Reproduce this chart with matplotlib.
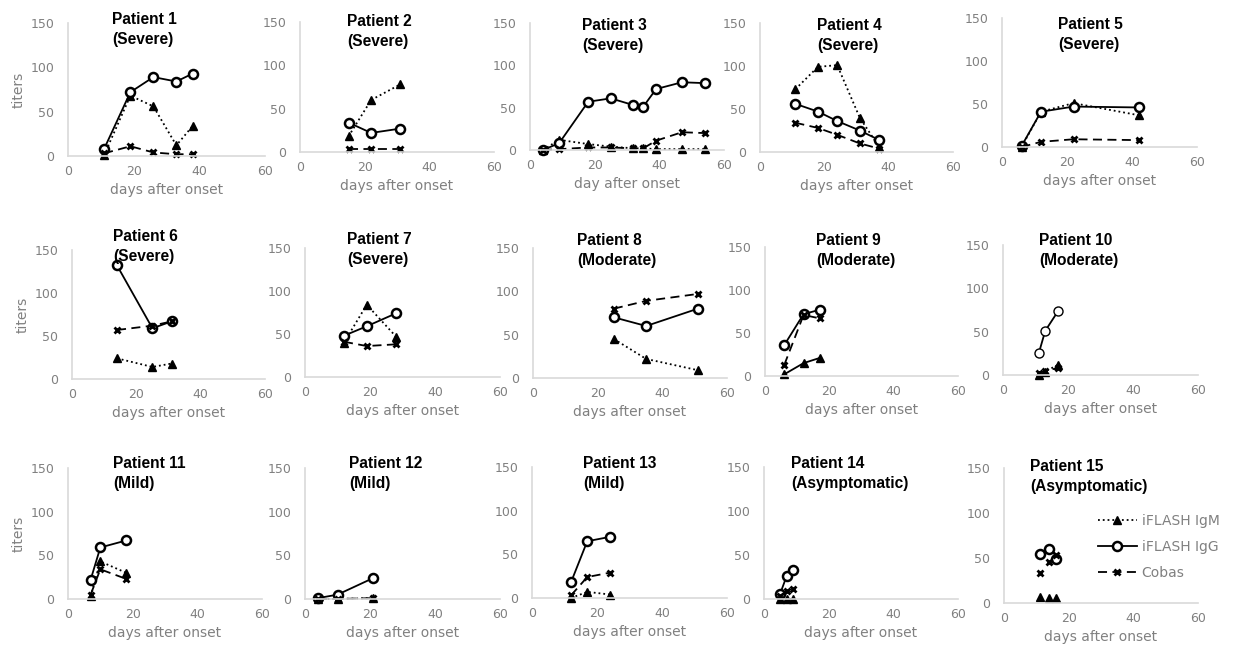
import matplotlib.pyplot as plt

# sampling days and titers, one list per patient
patients = ["Patient %d" % (i + 1) for i in range(15)]
severity = ["(Severe)"] * 7 + ["(Moderate)"] * 3 + ["(Mild)"] * 3 + ["(Asymptomatic)"] * 2

days = [
    [11, 19, 26, 33, 38],
    [15, 22, 31],
    [4, 9, 18, 25, 32, 35, 39, 47, 54],
    [11, 18, 24, 31, 37],
    [6, 12, 22, 42],
    [14, 25, 31],
    [12, 19, 28],
    [25, 35, 51],
    [6, 12, 17],
    [11, 13, 17],
    [7, 10, 18],
    [4, 10, 21],
    [12, 17, 24],
    [5, 7, 9],
    [11, 14, 16],
]
igm = [
    [1, 68, 56, 12, 34],
    [18, 60, 78],
    [0, 12, 7, 4, 2, 2, 1, 1, 1],
    [73, 99, 101, 40, 6],
    [0, 41, 51, 37],
    [24, 14, 18],
    [40, 84, 47],
    [45, 22, 9],
    [2, 15, 21],
    [0, 4, 12],
    [3, 43, 30],
    [0, 0, 1],
    [0, 7, 4],
    [0, 0, 0],
    [7, 6, 6],
]
igg = [
    [8, 72, 89, 84, 93],
    [34, 22, 27],
    [0, 8, 57, 61, 53, 51, 72, 80, 79],
    [56, 47, 36, 25, 14],
    [1, 41, 47, 46],
    [132, 59, 67],
    [48, 59, 74],
    [70, 60, 80],
    [36, 72, 77],
    [25, 51, 74],
    [22, 59, 67],
    [1, 5, 24],
    [18, 65, 70],
    [6, 26, 33],
    [54, 60, 49],
]
cobas = [
    [3, 11, 4, 2, 2],
    [3, 3, 3],
    [0, 1, 3, 3, 2, 2, 11, 21, 20],
    [34, 28, 20, 10, 4],
    [0, 6, 9, 8],
    [57, 62, 67],
    [41, 36, 38],
    [80, 89, 97],
    [13, 71, 67],
    [2, 5, 8],
    [5, 34, 23],
    [0, 0, 1],
    [3, 24, 29],
    [3, 9, 11],
    [33, 46, 53],
]
xlabels = ["days after onset"] * 15
xlabels[2] = "day after onset"
series_names = ["iFLASH IgM", "iFLASH IgG", "Cobas"]

# layout in pixels: y-axis x, x=60 x, x-axis y, y=150 y
boxes = [
    (68, 265, 156, 23), (300, 494, 152, 22), (530, 724, 150, 23), (760, 953, 152, 23), (1002, 1197, 147, 18),
    (72, 265, 379, 250), (305, 500, 377, 248), (533, 727, 378, 248), (765, 958, 376, 247), (1003, 1198, 375, 245),
    (68, 262, 599, 468), (305, 500, 599, 468), (532, 727, 598, 467), (764, 958, 599, 467), (1004, 1198, 603, 468),
]
title_pos = [
    (112, 18), (347, 20), (582, 24), (817, 24), (1058, 23),
    (113, 235), (347, 238), (577, 239), (816, 239), (1039, 239),
    (113, 462), (349, 462), (583, 462), (791, 462), (1030, 465),
]

W, H = 1238, 647
gray = "#808080"

fig = plt.figure(figsize=(W / 100, H / 100), dpi=100)
handles = None

for i in range(15):
    x0, x1, yb, yt = boxes[i]
    ax = fig.add_axes([x0 / W, 1 - yb / H, (x1 - x0) / W, (yb - yt) / H])
    ax.set_xlim(0, 60)
    ax.set_ylim(0, 150)
    ax.set_xticks([0, 20, 40, 60])
    ax.set_yticks([0, 50, 100, 150])
    for s in ["top", "right"]:
        ax.spines[s].set_visible(False)
    for s in ["left", "bottom"]:
        ax.spines[s].set_color("#d9d9d9")
        ax.spines[s].set_linewidth(1.2)
    ax.tick_params(length=0, labelsize=9, colors=gray)
    ax.tick_params(axis="x", pad=6.5)
    ax.tick_params(axis="y", pad=10)
    ax.set_xlabel(xlabels[i], color=gray, fontsize=10, labelpad=3.5)
    if i % 5 == 0:
        ax.set_ylabel("titers", color=gray, fontsize=10, labelpad=3)

    ls_m, ls_g, ls_c = ":", "-", (0, (5, 3))
    if i == 8:
        ls_m = "-"
    if i == 14:
        ls_m = ls_g = ls_c = "none"
    mew_g = 1.0 if i == 9 else 1.8

    l1, = ax.plot(days[i], igm[i], ls=ls_m, marker="^", color="black", ms=6,
                  lw=1.3, clip_on=False)
    l2, = ax.plot(days[i], igg[i], ls=ls_g, marker="o", color="black", mfc="white",
                  mew=mew_g, ms=6.5, lw=1.3, clip_on=False)
    l3, = ax.plot(days[i], cobas[i], ls=ls_c, marker="x", color="black", mew=2,
                  ms=4.5, lw=1.3, clip_on=False)
    if i == 0:
        handles = [l1, l2, l3]

    tx, ty = title_pos[i]
    fig.text(tx / W, 1 - (ty - 6) / H, patients[i] + "\n" + severity[i],
             fontfamily="Liberation Sans", fontweight="bold", fontsize=11.2,
             ha="left", va="top", linespacing=1.4)

fig.legend(handles, series_names, loc="upper left", bbox_to_anchor=(1098 / W, 1 - 514 / H),
           frameon=False, labelcolor=gray, fontsize=10, handlelength=2.8,
           handletextpad=0.35, labelspacing=0.85, borderaxespad=0, borderpad=0)

fig.savefig("out.png", dpi=100)
